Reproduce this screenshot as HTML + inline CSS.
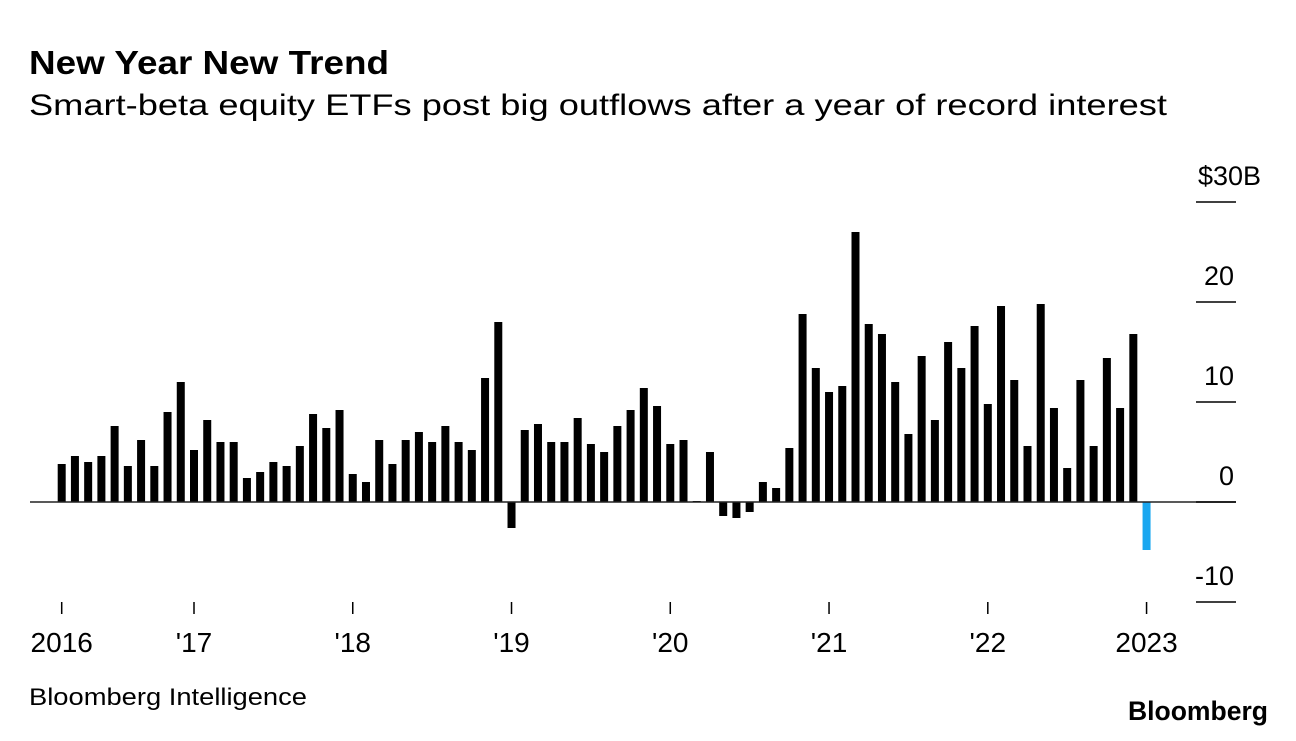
<!DOCTYPE html>
<html><head><meta charset="utf-8"><style>
body{margin:0;background:#fff;width:1296px;height:736px;overflow:hidden;font-family:"Liberation Sans",sans-serif;}
svg text{font-family:"Liberation Sans",sans-serif;}
</style></head><body>
<svg id="chart" width="1296" height="736" xmlns="http://www.w3.org/2000/svg">
<text x="29" y="74" font-size="33" font-weight="bold" fill="#000" textLength="360" lengthAdjust="spacingAndGlyphs">New Year New Trend</text>
<text x="29" y="115" font-size="30" fill="#000" textLength="1138" lengthAdjust="spacingAndGlyphs">Smart-beta equity ETFs post big outflows after a year of record interest</text>
<g id="bars"></g>
<g id="yaxis"></g>
<g id="xaxis"></g>
<text x="29" y="705" font-size="24" fill="#000" textLength="278" lengthAdjust="spacingAndGlyphs">Bloomberg Intelligence</text>
<text x="1128" y="720" font-size="27" font-weight="bold" fill="#000" textLength="140" lengthAdjust="spacingAndGlyphs">Bloomberg</text>
</svg>
<script>
const flows = [3.8,4.6,4.0,4.6,7.6,3.6,6.2,3.6,9.0,12.0,5.2,8.2,6.0,6.0,2.4,3.0,4.0,3.6,5.6,8.8,7.4,9.2,2.8,2.0,6.2,3.8,6.2,7.0,6.0,7.6,6.0,5.2,12.4,18.0,-2.6,7.2,7.8,6.0,6.0,8.4,5.8,5.0,7.6,9.2,11.4,9.6,5.8,6.2,0.1,5.0,-1.4,-1.6,-1.0,2.0,1.4,5.4,18.8,13.4,11.0,11.6,27.0,17.8,16.8,12.0,6.8,14.6,8.2,16.0,13.4,17.6,9.8,19.6,12.2,5.6,19.8,9.4,3.4,12.2,5.6,14.4,9.4,16.8,-4.8];
const yTicks = [30,20,10,0,-10];
const yTickLabels = ["$30B","20","10","0","-10"];
const xTickIndex = [0,10,22,34,46,58,70,82];
const xTickLabels = ["2016","'17","'18","'19","'20","'21","'22","2023"];

const NS="http://www.w3.org/2000/svg";
const y = v => 502 - v*10;
const xc = i => 61.7 + i*13.23;
const bw = 8;
function mk(tag, attrs, parent){const e=document.createElementNS(NS,tag);for(const k in attrs)e.setAttribute(k,attrs[k]);parent.appendChild(e);return e;}
const gb=document.getElementById('bars'), gy=document.getElementById('yaxis'), gx=document.getElementById('xaxis');

const zl = mk('line',{x1:30,x2:1236,y1:y(0),y2:y(0),stroke:'#222','stroke-width':1.5},gy);


yTicks.forEach((v,i)=>{
  const l=mk('line',{x1:1196,x2:1236,y1:y(v),y2:y(v),stroke:'#000','stroke-width':1.5},gy);
  
  
  const t=mk('text',{x:(i===0?1261:1234),y:y(v)-17,'font-size':27,'text-anchor':'end',fill:'#000'},gy);
  t.textContent=yTickLabels[i];
  
  
});
flows.forEach((v,i)=>{
  const last = i===flows.length-1;
  const r=mk('rect',{x:xc(i)-bw/2,y:Math.min(y(v),y(0)),width:bw,height:Math.abs(y(v)-y(0)),fill:last?'#1aa7f0':'#000'},gb);
  
  
});
xTickIndex.forEach((idx,i)=>{
  const l=mk('line',{x1:xc(idx),x2:xc(idx),y1:602,y2:614,stroke:'#000','stroke-width':1.5},gx);
  
  
  const t=mk('text',{x:xc(idx),y:652,'font-size':28,'text-anchor':'middle',fill:'#000'},gx);
  t.textContent=xTickLabels[i];
  
  
});
</script>
</body></html>
